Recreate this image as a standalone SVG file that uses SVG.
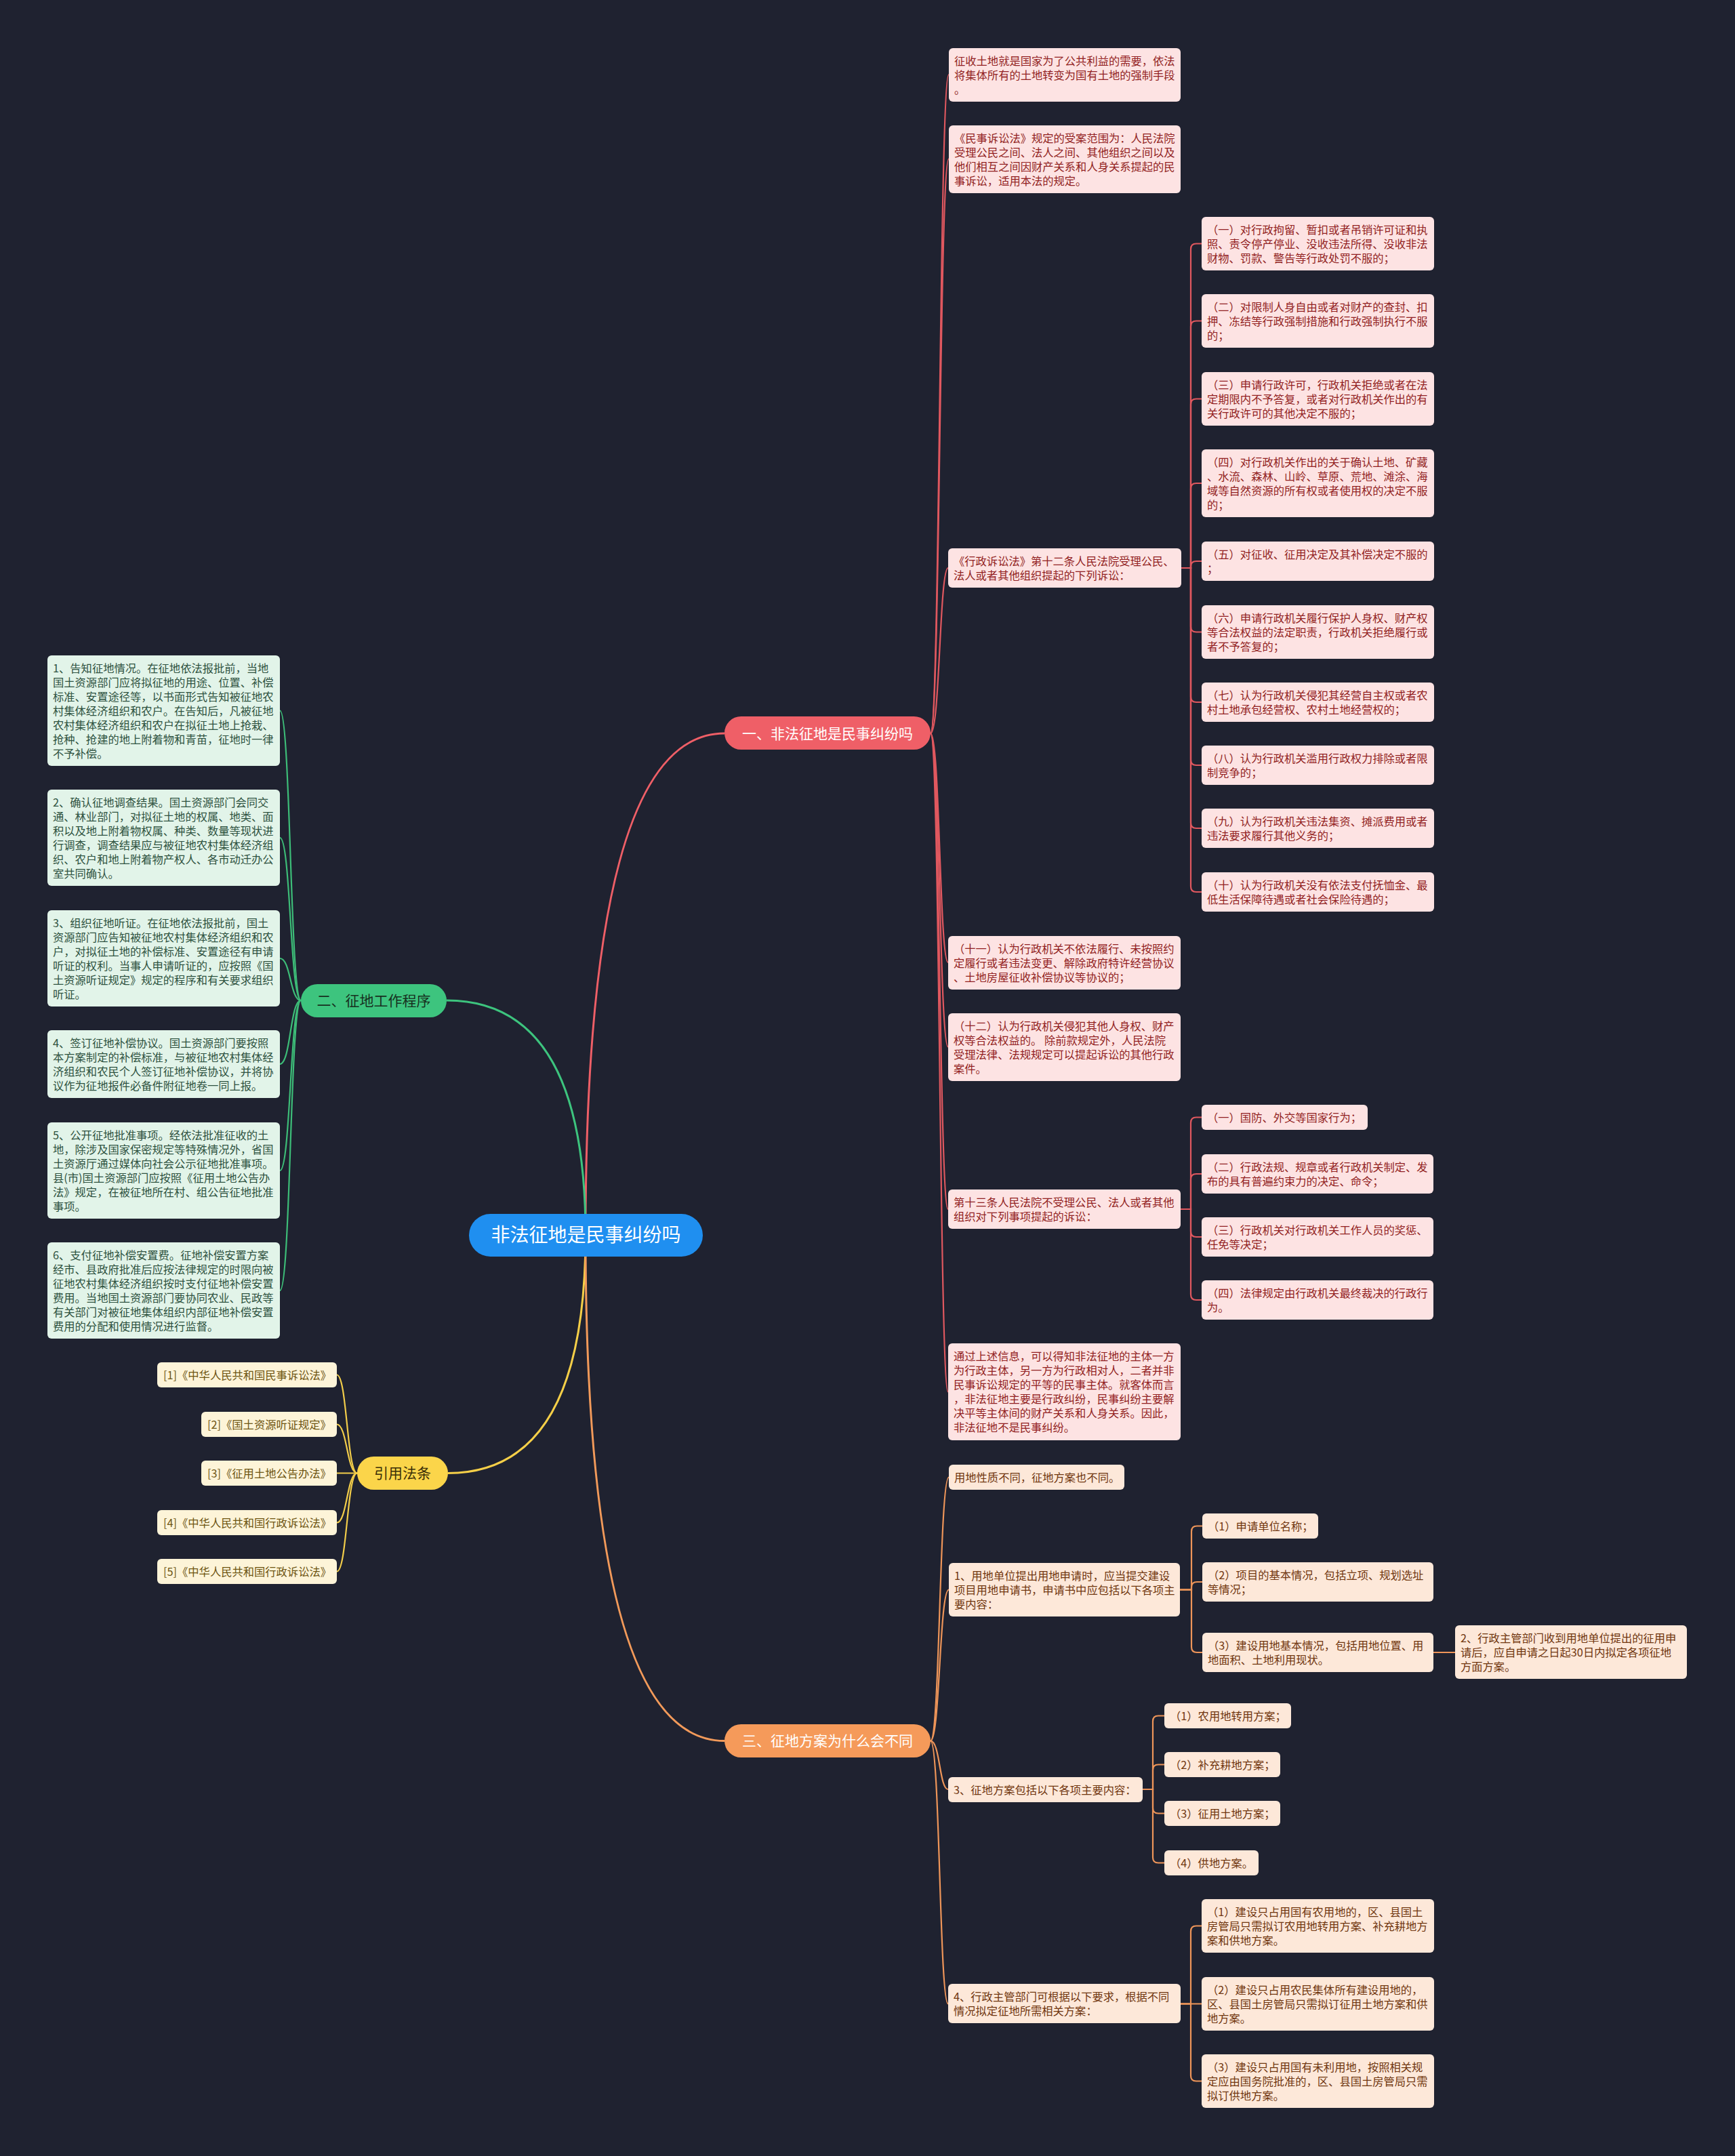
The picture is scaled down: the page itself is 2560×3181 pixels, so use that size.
<svg xmlns="http://www.w3.org/2000/svg" width="2560" height="3181" viewBox="0 0 2560 3181">
<style>
text{font-family:'Noto Sans CJK SC','Noto Sans',sans-serif;}
.t{font-size:16.3px;}
.r rect{fill:#fde3e3;}
.r text{fill:#921f22;}
.g rect{fill:#e2f4e9;}
.g text{fill:#2e5240;}
.y rect{fill:#fdf4d8;}
.y text{fill:#6e5512;}
.o rect{fill:#fde8d9;}
.o text{fill:#70360f;}
.c{fill:none;stroke-width:2.2;stroke-linecap:round;}
.cm{fill:none;stroke-width:3;}
</style>
<rect x="0" y="0" width="2560" height="3181" fill="#1f2230"/>

<g id="connectors">
  <path class="cm" stroke="#ef5f67" d="M864 1822 Q864 1082 1069 1082"/>
  <path class="cm" stroke="#3dc47e" d="M864 1822 Q864 1476 659 1476"/>
  <path class="cm" stroke="#f5cf48" d="M864 1822 Q864 2173.5 661 2173.5"/>
  <path class="cm" stroke="#f29a5a" d="M864 1822 Q864 2568.5 1069 2568.5"/>

  <g stroke="#e0585f">
    <path class="c" d="M1373 1082 C1387 1082 1386 110 1400 110"/>
    <path class="c" d="M1373 1082 C1387 1082 1386 234.5 1400 234.5"/>
    <path class="c" d="M1373 1082 C1387 1082 1386 838 1399 838"/>
    <path class="c" d="M1373 1082 C1387 1082 1386 1420 1399 1420"/>
    <path class="c" d="M1373 1082 C1387 1082 1386 1544.5 1399 1544.5"/>
    <path class="c" d="M1373 1082 C1387 1082 1386 1784 1399 1784"/>
    <path class="c" d="M1373 1082 C1387 1082 1386 2053.5 1399 2053.5"/>
    <path class="c" d="M1743 838 H1757 V367.5 Q1757 359.5 1765 359.5 H1773"/>
    <path class="c" d="M1743 838 H1757 V481.5 Q1757 473.5 1765 473.5 H1773"/>
    <path class="c" d="M1743 838 H1757 V596.5 Q1757 588.5 1765 588.5 H1773"/>
    <path class="c" d="M1743 838 H1757 V721 Q1757 713 1765 713 H1773"/>
    <path class="c" d="M1743 838 H1757 V836 Q1757 828 1765 828 H1773"/>
    <path class="c" d="M1743 838 H1757 V924.5 Q1757 932.5 1765 932.5 H1773"/>
    <path class="c" d="M1743 838 H1757 V1028 Q1757 1036 1765 1036 H1773"/>
    <path class="c" d="M1743 838 H1757 V1121 Q1757 1129 1765 1129 H1773"/>
    <path class="c" d="M1743 838 H1757 V1214 Q1757 1222 1765 1222 H1773"/>
    <path class="c" d="M1743 838 H1757 V1308 Q1757 1316 1765 1316 H1773"/>
    <path class="c" d="M1742 1784 H1757 V1656.5 Q1757 1648.5 1765 1648.5 H1773"/>
    <path class="c" d="M1742 1784 H1757 V1740 Q1757 1732 1765 1732 H1773"/>
    <path class="c" d="M1742 1784 H1757 V1817 Q1757 1825 1765 1825 H1773"/>
    <path class="c" d="M1742 1784 H1757 V1910 Q1757 1918 1765 1918 H1773"/>
  </g>

  <g stroke="#3dbd78">
    <path class="c" d="M444 1476 C428 1476 429 1048.5 413 1048.5"/>
    <path class="c" d="M444 1476 C428 1476 429 1236 413 1236"/>
    <path class="c" d="M444 1476 C428 1476 429 1414 413 1414"/>
    <path class="c" d="M444 1476 C428 1476 429 1570 413 1570"/>
    <path class="c" d="M444 1476 C428 1476 429 1727 413 1727"/>
    <path class="c" d="M444 1476 C428 1476 429 1904 413 1904"/>
  </g>

  <g stroke="#f2cd4a">
    <path class="c" d="M527 2173.5 C512 2173.5 512 2028.5 497 2028.5"/>
    <path class="c" d="M527 2173.5 C512 2173.5 512 2101.5 497 2101.5"/>
    <path class="c" d="M527 2173.5 H497"/>
    <path class="c" d="M527 2173.5 C512 2173.5 512 2246.5 497 2246.5"/>
    <path class="c" d="M527 2173.5 C512 2173.5 512 2318.5 497 2318.5"/>
  </g>

  <g stroke="#ee9559">
    <path class="c" d="M1373 2568.5 C1387 2568.5 1386 2179.5 1400 2179.5"/>
    <path class="c" d="M1373 2568.5 C1387 2568.5 1386 2345.5 1400 2345.5"/>
    <path class="c" d="M1373 2568.5 C1387 2568.5 1386 2640 1399 2640"/>
    <path class="c" d="M1373 2568.5 C1387 2568.5 1386 2956.5 1399 2956.5"/>
    <path class="c" d="M1741 2345.5 H1758 V2259.5 Q1758 2251.5 1766 2251.5 H1774"/>
    <path class="c" d="M1741 2345.5 H1758 V2342 Q1758 2334 1766 2334 H1774"/>
    <path class="c" d="M1741 2345.5 H1758 V2430 Q1758 2438 1766 2438 H1774"/>
    <path class="c" d="M2115 2438 H2147"/>
    <path class="c" d="M1686 2640 H1701 V2539.5 Q1701 2531.5 1709 2531.5 H1718"/>
    <path class="c" d="M1686 2640 H1701 V2611.5 Q1701 2603.5 1709 2603.5 H1718"/>
    <path class="c" d="M1686 2640 H1701 V2667.5 Q1701 2675.5 1709 2675.5 H1718"/>
    <path class="c" d="M1686 2640 H1701 V2740.5 Q1701 2748.5 1709 2748.5 H1718"/>
    <path class="c" d="M1742 2956.5 H1757 V2849.5 Q1757 2841.5 1765 2841.5 H1773"/>
    <path class="c" d="M1742 2956.5 H1773"/>
    <path class="c" d="M1742 2956.5 H1757 V3062.5 Q1757 3070.5 1765 3070.5 H1773"/>
  </g>
</g>

<g id="root">
  <rect x="692" y="1791" width="345" height="63" rx="31.5" fill="#1f8ff0"/>
  <text x="864.5" y="1832" font-size="28" fill="#ffffff" text-anchor="middle">非法征地是民事纠纷吗</text>
</g>

<g id="branch1">
  <rect x="1069" y="1057" width="304" height="49" rx="24.5" fill="#ef5f67"/>
  <text x="1221" y="1089.5" font-size="21" fill="#ffffff" text-anchor="middle">一、非法征地是民事纠纷吗</text>
</g>
<g id="branch2">
  <rect x="444" y="1452" width="215" height="49" rx="24.5" fill="#3dc47e"/>
  <text x="551.5" y="1484" font-size="21" fill="#17311f" text-anchor="middle">二、征地工作程序</text>
</g>
<g id="branch3">
  <rect x="527" y="2149" width="134" height="49" rx="24.5" fill="#fbd54a"/>
  <text x="594" y="2181" font-size="21" fill="#3a2e07" text-anchor="middle">引用法条</text>
</g>
<g id="branch4">
  <rect x="1069" y="2544" width="304" height="49" rx="24.5" fill="#f59a5a"/>
  <text x="1221" y="2576" font-size="21" fill="#ffffff" text-anchor="middle">三、征地方案为什么会不同</text>
</g>

<g id="n1" class="r"><rect x="1400" y="71" width="342" height="79" rx="6"/>
<text class="t"><tspan x="1408" y="96">征收土地就是国家为了公共利益的需要，依法</tspan><tspan x="1408" y="117">将集体所有的土地转变为国有土地的强制手段</tspan><tspan x="1408" y="138">。</tspan></text></g>
<g id="n2" class="r"><rect x="1400" y="185" width="342" height="100" rx="6"/>
<text class="t"><tspan x="1408" y="210">《民事诉讼法》规定的受案范围为：人民法院</tspan><tspan x="1408" y="231">受理公民之间、法人之间、其他组织之间以及</tspan><tspan x="1408" y="252">他们相互之间因财产关系和人身关系提起的民</tspan><tspan x="1408" y="273">事诉讼，适用本法的规定。</tspan></text></g>
<g id="n3" class="r"><rect x="1399" y="809" width="344" height="58" rx="6"/>
<text class="t"><tspan x="1407" y="834">《行政诉讼法》第十二条人民法院受理公民、</tspan><tspan x="1407" y="855">法人或者其他组织提起的下列诉讼：</tspan></text></g>

<g id="n3a" class="r"><rect x="1773" y="320" width="343" height="79" rx="6"/>
<text class="t"><tspan x="1781" y="345">（一）对行政拘留、暂扣或者吊销许可证和执</tspan><tspan x="1781" y="366">照、责令停产停业、没收违法所得、没收非法</tspan><tspan x="1781" y="387">财物、罚款、警告等行政处罚不服的；</tspan></text></g>
<g id="n3b" class="r"><rect x="1773" y="434" width="343" height="79" rx="6"/>
<text class="t"><tspan x="1781" y="459">（二）对限制人身自由或者对财产的查封、扣</tspan><tspan x="1781" y="480">押、冻结等行政强制措施和行政强制执行不服</tspan><tspan x="1781" y="501">的；</tspan></text></g>
<g id="n3c" class="r"><rect x="1773" y="549" width="343" height="79" rx="6"/>
<text class="t"><tspan x="1781" y="574">（三）申请行政许可，行政机关拒绝或者在法</tspan><tspan x="1781" y="595">定期限内不予答复，或者对行政机关作出的有</tspan><tspan x="1781" y="616">关行政许可的其他决定不服的；</tspan></text></g>
<g id="n3d" class="r"><rect x="1773" y="663" width="343" height="100" rx="6"/>
<text class="t"><tspan x="1781" y="688">（四）对行政机关作出的关于确认土地、矿藏</tspan><tspan x="1781" y="709">、水流、森林、山岭、草原、荒地、滩涂、海</tspan><tspan x="1781" y="730">域等自然资源的所有权或者使用权的决定不服</tspan><tspan x="1781" y="751">的；</tspan></text></g>
<g id="n3e" class="r"><rect x="1773" y="799" width="343" height="58" rx="6"/>
<text class="t"><tspan x="1781" y="824">（五）对征收、征用决定及其补偿决定不服的</tspan><tspan x="1781" y="845">；</tspan></text></g>
<g id="n3f" class="r"><rect x="1773" y="893" width="343" height="79" rx="6"/>
<text class="t"><tspan x="1781" y="918">（六）申请行政机关履行保护人身权、财产权</tspan><tspan x="1781" y="939">等合法权益的法定职责，行政机关拒绝履行或</tspan><tspan x="1781" y="960">者不予答复的；</tspan></text></g>
<g id="n3g" class="r"><rect x="1773" y="1007" width="343" height="58" rx="6"/>
<text class="t"><tspan x="1781" y="1032">（七）认为行政机关侵犯其经营自主权或者农</tspan><tspan x="1781" y="1053">村土地承包经营权、农村土地经营权的；</tspan></text></g>
<g id="n3h" class="r"><rect x="1773" y="1100" width="343" height="58" rx="6"/>
<text class="t"><tspan x="1781" y="1125">（八）认为行政机关滥用行政权力排除或者限</tspan><tspan x="1781" y="1146">制竞争的；</tspan></text></g>
<g id="n3i" class="r"><rect x="1773" y="1193" width="343" height="58" rx="6"/>
<text class="t"><tspan x="1781" y="1218">（九）认为行政机关违法集资、摊派费用或者</tspan><tspan x="1781" y="1239">违法要求履行其他义务的；</tspan></text></g>
<g id="n3j" class="r"><rect x="1773" y="1287" width="343" height="58" rx="6"/>
<text class="t"><tspan x="1781" y="1312">（十）认为行政机关没有依法支付抚恤金、最</tspan><tspan x="1781" y="1333">低生活保障待遇或者社会保险待遇的；</tspan></text></g>

<g id="n4" class="r"><rect x="1399" y="1381" width="343" height="79" rx="6"/>
<text class="t"><tspan x="1407" y="1406">（十一）认为行政机关不依法履行、未按照约</tspan><tspan x="1407" y="1427">定履行或者违法变更、解除政府特许经营协议</tspan><tspan x="1407" y="1448">、土地房屋征收补偿协议等协议的；</tspan></text></g>
<g id="n5" class="r"><rect x="1399" y="1495" width="343" height="100" rx="6"/>
<text class="t"><tspan x="1407" y="1520">（十二）认为行政机关侵犯其他人身权、财产</tspan><tspan x="1407" y="1541">权等合法权益的。 除前款规定外，人民法院</tspan><tspan x="1407" y="1562">受理法律、法规规定可以提起诉讼的其他行政</tspan><tspan x="1407" y="1583">案件。</tspan></text></g>
<g id="n6" class="r"><rect x="1399" y="1755" width="343" height="58" rx="6"/>
<text class="t"><tspan x="1407" y="1780">第十三条人民法院不受理公民、法人或者其他</tspan><tspan x="1407" y="1801">组织对下列事项提起的诉讼：</tspan></text></g>
<g id="n6a" class="r"><rect x="1773" y="1630" width="245" height="37" rx="6"/>
<text class="t"><tspan x="1781" y="1655">（一）国防、外交等国家行为；</tspan></text></g>
<g id="n6b" class="r"><rect x="1773" y="1703" width="342" height="58" rx="6"/>
<text class="t"><tspan x="1781" y="1728">（二）行政法规、规章或者行政机关制定、发</tspan><tspan x="1781" y="1749">布的具有普遍约束力的决定、命令；</tspan></text></g>
<g id="n6c" class="r"><rect x="1773" y="1796" width="342" height="58" rx="6"/>
<text class="t"><tspan x="1781" y="1821">（三）行政机关对行政机关工作人员的奖惩、</tspan><tspan x="1781" y="1842">任免等决定；</tspan></text></g>
<g id="n6d" class="r"><rect x="1773" y="1889" width="342" height="58" rx="6"/>
<text class="t"><tspan x="1781" y="1914">（四）法律规定由行政机关最终裁决的行政行</tspan><tspan x="1781" y="1935">为。</tspan></text></g>
<g id="n7" class="r"><rect x="1399" y="1982" width="343" height="143" rx="6"/>
<text class="t"><tspan x="1407" y="2007">通过上述信息，可以得知非法征地的主体一方</tspan><tspan x="1407" y="2028">为行政主体，另一方为行政相对人，二者并非</tspan><tspan x="1407" y="2049">民事诉讼规定的平等的民事主体。就客体而言</tspan><tspan x="1407" y="2070">，非法征地主要是行政纠纷，民事纠纷主要解</tspan><tspan x="1407" y="2091">决平等主体间的财产关系和人身关系。因此，</tspan><tspan x="1407" y="2112">非法征地不是民事纠纷。</tspan></text></g>

<g id="g1" class="g"><rect x="70" y="967" width="343" height="163" rx="6"/>
<text class="t"><tspan x="78" y="992">1、告知征地情况。在征地依法报批前，当地</tspan><tspan x="78" y="1013">国土资源部门应将拟征地的用途、位置、补偿</tspan><tspan x="78" y="1034">标准、安置途径等，以书面形式告知被征地农</tspan><tspan x="78" y="1055">村集体经济组织和农户。在告知后，凡被征地</tspan><tspan x="78" y="1076">农村集体经济组织和农户在拟征土地上抢栽、</tspan><tspan x="78" y="1097">抢种、抢建的地上附着物和青苗，征地时一律</tspan><tspan x="78" y="1118">不予补偿。</tspan></text></g>
<g id="g2" class="g"><rect x="70" y="1165" width="343" height="142" rx="6"/>
<text class="t"><tspan x="78" y="1190">2、确认征地调查结果。国土资源部门会同交</tspan><tspan x="78" y="1211">通、林业部门，对拟征土地的权属、地类、面</tspan><tspan x="78" y="1232">积以及地上附着物权属、种类、数量等现状进</tspan><tspan x="78" y="1253">行调查，调查结果应与被征地农村集体经济组</tspan><tspan x="78" y="1274">织、农户和地上附着物产权人、各市动迁办公</tspan><tspan x="78" y="1295">室共同确认。</tspan></text></g>
<g id="g3" class="g"><rect x="70" y="1343" width="343" height="142" rx="6"/>
<text class="t"><tspan x="78" y="1368">3、组织征地听证。在征地依法报批前，国土</tspan><tspan x="78" y="1389">资源部门应告知被征地农村集体经济组织和农</tspan><tspan x="78" y="1410">户，对拟征土地的补偿标准、安置途径有申请</tspan><tspan x="78" y="1431">听证的权利。当事人申请听证的，应按照《国</tspan><tspan x="78" y="1452">土资源听证规定》规定的程序和有关要求组织</tspan><tspan x="78" y="1473">听证。</tspan></text></g>
<g id="g4" class="g"><rect x="70" y="1520" width="343" height="100" rx="6"/>
<text class="t"><tspan x="78" y="1545">4、签订征地补偿协议。国土资源部门要按照</tspan><tspan x="78" y="1566">本方案制定的补偿标准，与被征地农村集体经</tspan><tspan x="78" y="1587">济组织和农民个人签订征地补偿协议，并将协</tspan><tspan x="78" y="1608">议作为征地报件必备件附征地卷一同上报。</tspan></text></g>
<g id="g5" class="g"><rect x="70" y="1656" width="343" height="142" rx="6"/>
<text class="t"><tspan x="78" y="1681">5、公开征地批准事项。经依法批准征收的土</tspan><tspan x="78" y="1702">地，除涉及国家保密规定等特殊情况外，省国</tspan><tspan x="78" y="1723">土资源厅通过媒体向社会公示征地批准事项。</tspan><tspan x="78" y="1744">县(市)国土资源部门应按照《征用土地公告办</tspan><tspan x="78" y="1765">法》规定，在被征地所在村、组公告征地批准</tspan><tspan x="78" y="1786">事项。</tspan></text></g>
<g id="g6" class="g"><rect x="70" y="1833" width="343" height="142" rx="6"/>
<text class="t"><tspan x="78" y="1858">6、支付征地补偿安置费。征地补偿安置方案</tspan><tspan x="78" y="1879">经市、县政府批准后应按法律规定的时限向被</tspan><tspan x="78" y="1900">征地农村集体经济组织按时支付征地补偿安置</tspan><tspan x="78" y="1921">费用。当地国土资源部门要协同农业、民政等</tspan><tspan x="78" y="1942">有关部门对被征地集体组织内部征地补偿安置</tspan><tspan x="78" y="1963">费用的分配和使用情况进行监督。</tspan></text></g>

<g id="y1" class="y"><rect x="232" y="2010" width="265" height="37" rx="6"/>
<text class="t" x="241" y="2035">[1]《中华人民共和国民事诉讼法》</text></g>
<g id="y2" class="y"><rect x="297" y="2083" width="200" height="37" rx="6"/>
<text class="t" x="306" y="2108">[2]《国土资源听证规定》</text></g>
<g id="y3" class="y"><rect x="297" y="2155" width="200" height="37" rx="6"/>
<text class="t" x="306" y="2180">[3]《征用土地公告办法》</text></g>
<g id="y4" class="y"><rect x="232" y="2228" width="265" height="37" rx="6"/>
<text class="t" x="241" y="2253">[4]《中华人民共和国行政诉讼法》</text></g>
<g id="y5" class="y"><rect x="232" y="2300" width="265" height="37" rx="6"/>
<text class="t" x="241" y="2325">[5]《中华人民共和国行政诉讼法》</text></g>

<g id="o1" class="o"><rect x="1400" y="2161" width="259" height="37" rx="6"/>
<text class="t" x="1408" y="2186">用地性质不同，征地方案也不同。</text></g>
<g id="o2" class="o"><rect x="1400" y="2306" width="341" height="79" rx="6"/>
<text class="t"><tspan x="1408" y="2331">1、用地单位提出用地申请时，应当提交建设</tspan><tspan x="1408" y="2352">项目用地申请书，申请书中应包括以下各项主</tspan><tspan x="1408" y="2373">要内容：</tspan></text></g>
<g id="o2a" class="o"><rect x="1774" y="2233" width="171" height="37" rx="6"/>
<text class="t" x="1782" y="2258">（1）申请单位名称；</text></g>
<g id="o2b" class="o"><rect x="1774" y="2305" width="341" height="58" rx="6"/>
<text class="t"><tspan x="1782" y="2330">（2）项目的基本情况，包括立项、规划选址</tspan><tspan x="1782" y="2351">等情况；</tspan></text></g>
<g id="o2c" class="o"><rect x="1774" y="2409" width="341" height="58" rx="6"/>
<text class="t"><tspan x="1782" y="2434">（3）建设用地基本情况，包括用地位置、用</tspan><tspan x="1782" y="2455">地面积、土地利用现状。</tspan></text></g>
<g id="o2c1" class="o"><rect x="2147" y="2398" width="342" height="79" rx="6"/>
<text class="t"><tspan x="2155" y="2423">2、行政主管部门收到用地单位提出的征用申</tspan><tspan x="2155" y="2444">请后，应自申请之日起30日内拟定各项征地</tspan><tspan x="2155" y="2465">方面方案。</tspan></text></g>
<g id="o3" class="o"><rect x="1399" y="2622" width="287" height="37" rx="6"/>
<text class="t" x="1407" y="2647">3、征地方案包括以下各项主要内容：</text></g>
<g id="o3a" class="o"><rect x="1718" y="2513" width="187" height="37" rx="6"/>
<text class="t" x="1726" y="2538">（1）农用地转用方案；</text></g>
<g id="o3b" class="o"><rect x="1718" y="2585" width="171" height="37" rx="6"/>
<text class="t" x="1726" y="2610">（2）补充耕地方案；</text></g>
<g id="o3c" class="o"><rect x="1718" y="2657" width="171" height="37" rx="6"/>
<text class="t" x="1726" y="2682">（3）征用土地方案；</text></g>
<g id="o3d" class="o"><rect x="1718" y="2730" width="139" height="37" rx="6"/>
<text class="t" x="1726" y="2755">（4）供地方案。</text></g>
<g id="o4" class="o"><rect x="1399" y="2927" width="343" height="58" rx="6"/>
<text class="t"><tspan x="1407" y="2952">4、行政主管部门可根据以下要求，根据不同</tspan><tspan x="1407" y="2973">情况拟定征地所需相关方案：</tspan></text></g>
<g id="o4a" class="o"><rect x="1773" y="2802" width="343" height="79" rx="6"/>
<text class="t"><tspan x="1781" y="2827">（1）建设只占用国有农用地的，区、县国土</tspan><tspan x="1781" y="2848">房管局只需拟订农用地转用方案、补充耕地方</tspan><tspan x="1781" y="2869">案和供地方案。</tspan></text></g>
<g id="o4b" class="o"><rect x="1773" y="2917" width="343" height="79" rx="6"/>
<text class="t"><tspan x="1781" y="2942">（2）建设只占用农民集体所有建设用地的，</tspan><tspan x="1781" y="2963">区、县国土房管局只需拟订征用土地方案和供</tspan><tspan x="1781" y="2984">地方案。</tspan></text></g>
<g id="o4c" class="o"><rect x="1773" y="3031" width="343" height="79" rx="6"/>
<text class="t"><tspan x="1781" y="3056">（3）建设只占用国有未利用地，按照相关规</tspan><tspan x="1781" y="3077">定应由国务院批准的，区、县国土房管局只需</tspan><tspan x="1781" y="3098">拟订供地方案。</tspan></text></g>
</svg>
